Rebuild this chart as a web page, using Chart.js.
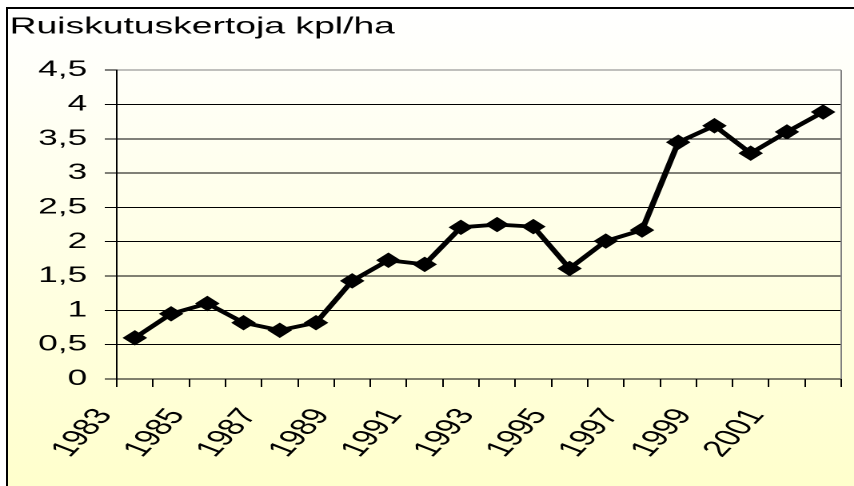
<!DOCTYPE html>
<html>
<head>
<meta charset="utf-8">
<script src="https://cdn.jsdelivr.net/npm/chart.js@4"></script>
<style>
  html, body { margin: 0; padding: 0; background: #fff; overflow: hidden; }
  body { width: 854px; height: 486px; position: relative; }
  #bg {
    position: absolute; left: 6px; top: 7px; width: 860px; height: 479px;
    border-left: 2px solid #000; border-top: 2px solid #000;
    background: linear-gradient(#ffffff, #ffffcc);
  }
  /* the original picture is stretched sideways, so the chart is drawn narrow and widened */
  #wrap { position: absolute; left: 0; top: 0; transform: scaleX(1.5993); transform-origin: 0 0; }
</style>
</head>
<body>
<div id="bg"></div>
<div id="wrap"><canvas id="chart" width="534" height="486"></canvas></div>
<script>
// Ruiskutuskertoja kpl/ha, vuodet 1983-2002
const vuodet = ['1983', '1984', '1985', '1986', '1987', '1988', '1989', '1990', '1991', '1992',
                '1993', '1994', '1995', '1996', '1997', '1998', '1999', '2000', '2001', '2002'];
const kerrat = [0.6, 0.95, 1.1, 0.82, 0.71, 0.82, 1.43, 1.73, 1.67, 2.21,
                2.25, 2.22, 1.61, 2.01, 2.17, 3.45, 3.69, 3.29, 3.6, 3.89];
const yMin = 0;
const yMax = 4.5;
const yStep = 0.5;

const fontti = 'Arial, "Liberation Sans", sans-serif';

// harmaa kehys piirtoalueen oikealle reunalle
const kehys = {
    id: 'kehys',
    beforeDatasetsDraw(chart) {
        const a = chart.chartArea;
        const ctx = chart.ctx;
        ctx.save();
        ctx.strokeStyle = '#808080';
        ctx.lineWidth = 1;
        ctx.beginPath();
        ctx.moveTo(a.right, a.top);
        ctx.lineTo(a.right, a.bottom);
        ctx.stroke();
        ctx.restore();
    }
};

var kaavio = new Chart(document.getElementById('chart').getContext('2d'), {
    type: 'line',
    data: {
        labels: vuodet,
        datasets: [{
            label: 'Ruiskutuskertoja',
            data: kerrat,
            borderColor: '#000',
            backgroundColor: '#000',
            borderWidth: 3.8,
            pointStyle: 'rectRot',
            pointRadius: 7,
            pointBorderWidth: 1,
            tension: 0
        }]
    },
    options: {
        responsive: false,
        maintainAspectRatio: false,
        devicePixelRatio: 2,
        animation: false,
        layout: { padding: { left: 6, top: 8, right: 6, bottom: 0 } },
        plugins: {
            legend: { display: false },
            tooltip: { enabled: false },
            title: {
                display: true,
                text: 'Ruiskutuskertoja kpl/ha',
                align: 'start',
                color: '#000',
                font: { family: fontti, size: 23.3, weight: 'normal' },
                padding: { top: 5, bottom: 29.2 }
            }
        },
        scales: {
            x: {
                offset: true,
                afterFit: s => { s.height = 107; s.paddingLeft = 0; s.paddingRight = 0; },
                border: { color: '#000', width: 1 },
                grid: { offset: true, drawOnChartArea: false, drawTicks: true, tickLength: 8, color: '#000' },
                ticks: {
                    autoSkip: false,
                    minRotation: 58,
                    maxRotation: 58,
                    labelOffset: -19,
                    padding: 17,
                    color: '#000',
                    font: { family: fontti, size: 23 },
                    callback: (v, i) => (i % 2 === 0 ? vuodet[i] : '')
                }
            },
            y: {
                min: yMin,
                max: yMax,
                afterFit: s => { s.width = 67; },
                border: { color: '#000', width: 1 },
                grid: {
                    color: c => (c.tick && c.tick.value === yMax ? '#808080' : '#000'),
                    lineWidth: 1,
                    tickLength: 7.5,
                    tickColor: '#000'
                },
                ticks: {
                    stepSize: yStep,
                    padding: 11,
                    color: '#000',
                    font: { family: fontti, size: 22 },
                    callback: v => String(v).replace('.', ',')
                }
            }
        }
    },
    plugins: [kehys]
});
</script>
</body>
</html>
